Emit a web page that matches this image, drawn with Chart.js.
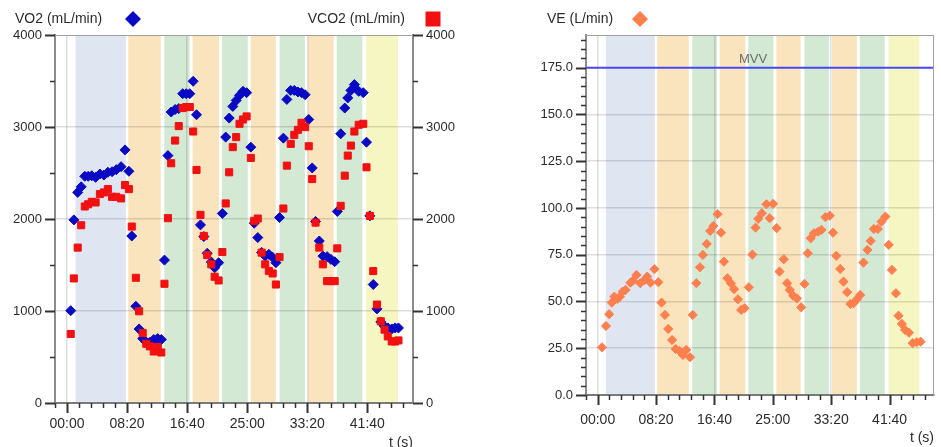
<!DOCTYPE html>
<html>
<head>
<meta charset="utf-8">
<script src="https://cdn.jsdelivr.net/npm/chart.js@4.4.0/dist/chart.umd.min.js"></script>
<style>
  html, body { margin: 0; padding: 0; background: #fff; }
  #wrap { position: relative; width: 941px; height: 447px; overflow: hidden; }
  #left { position: absolute; left: 0; top: 0; }
  #right { position: absolute; left: 470px; top: 0; }
</style>
</head>
<body>
<div id="wrap">
  <canvas id="left" width="470" height="447"></canvas>
  <canvas id="right" width="471" height="447"></canvas>
</div>
<script>
// ---- data (time in s) ----
const gasTimes = [31, 57, 89, 118, 148, 176, 206, 238, 274, 307, 340, 375, 410, 450, 483, 515,
  539, 573, 600, 630, 660, 690, 722, 755, 785,
  811, 840, 867, 900, 930, 963, 992, 1022, 1050, 1078,
  1111, 1139, 1167, 1201, 1229, 1262,
  1293, 1321, 1350, 1380, 1408, 1436, 1465, 1495,
  1530, 1558, 1588, 1620, 1650, 1680, 1712, 1739,
  1769, 1801, 1830, 1862, 1892, 1922, 1952, 1982,
  2012, 2041, 2069, 2100, 2130, 2165, 2197, 2228,
  2250, 2278, 2312, 2337, 2363, 2392, 2428, 2466,
  2493, 2521, 2549, 2580, 2612, 2643, 2670, 2703, 2731, 2759];
const vo2Values = [1004, 1990, 2289, 2350, 2464, 2464, 2470, 2453, 2489, 2478, 2508, 2514, 2536, 2569, 2751, 2519,
  1815, 1051, 805, 700, 660, 660, 690, 700, 690,
  1553, 2689, 3163, 3190, 3200, 3362, 3362, 3362, 3497, 3133,
  1936, 1809, 1627, 1532, 1470, 1525,
  2060, 2890, 3097, 3224, 3289, 3344, 3388, 3373,
  2781, 1954, 1798, 1637, 1597, 1616, 1583, 1525,
  2016, 2879, 3300, 3398, 3398, 3381, 3373, 3351,
  3082, 2555, 1973, 1761, 1597, 1591, 1561, 1536,
  2082, 2926, 3206, 3316, 3398, 3461, 3388, 3373,
  2835, 2034, 1288, 1023, 881, 833, 816, 805, 816, 816];
const vco2Values = [750, 1354, 1689, 1932, 2136, 2160, 2187, 2180, 2271, 2289, 2325, 2241, 2241, 2224, 2369, 2325,
  1918, 1361, 997, 761, 644, 615, 560, 608, 549,
  1296, 2009, 2606, 2853, 3010, 3206, 3217, 3217, 2951, 2533,
  2045, 1816, 1608, 1507, 1372, 1332,
  1641, 2169, 2508, 2781, 2890, 3035, 3082, 3115,
  2664, 1980, 2005, 1634, 1507, 1434, 1408, 1288,
  1586, 2114, 2580, 2817, 2915, 2969, 3046, 2999,
  2791, 2434, 1961, 1689, 1507, 1325, 1325, 1325,
  1681, 2143, 2471, 2689, 2798, 2951, 3024, 3035,
  2562, 2034, 1434, 1070, 888, 797, 724, 669, 669, 680];

const veTimes = [37, 71, 98, 121, 143, 168, 191, 214, 239, 281, 303, 332, 365, 402, 424, 452, 486,
  519, 547, 576, 604, 637, 668, 702, 730, 758, 791,
  814, 845, 876, 901, 934, 963, 991, 1027,
  1056, 1081, 1111, 1140, 1168, 1201, 1229, 1258,
  1294, 1325, 1352, 1375, 1406, 1445, 1473, 1502,
  1532, 1557, 1594, 1622, 1645, 1673, 1706, 1743,
  1771, 1799, 1824, 1852, 1889, 1917, 1950, 1987,
  2015, 2043, 2077, 2105, 2136, 2164, 2192, 2220,
  2248, 2276, 2310, 2338, 2365, 2399, 2430, 2464,
  2492, 2520, 2554, 2576, 2605, 2632, 2666, 2697, 2731, 2765];
const veValues = [25.5, 36.9, 43.2, 49.4, 52.6, 51.4, 52.6, 55.3, 56.2, 60.1, 61.2, 64.2, 59.8, 61.5, 63.3, 60.1, 67.3,
  60.3, 49.4, 42.8, 35.3, 29.4, 24.6, 23.5, 21.4, 24.1, 20.2,
  42.8, 59.8, 68.3, 74.9, 80.8, 87.7, 90.4, 96.7,
  86.8, 71.3, 62.4, 59.8, 56.6, 51.2, 45.5, 46.4,
  57.6, 75.1, 89.5, 94.2, 97.2, 102, 94.5, 102.2,
  89.2, 66, 72.6, 59.8, 56.2, 53.1, 51.7, 46.9,
  59.4, 75.8, 83.8, 86.5, 87.4, 88.3, 95.1, 95.9,
  86.8, 74.4, 67.4, 60.6, 55, 48.7, 49.1, 51.2,
  53.5, 70.8, 77.6, 82.4, 88.8, 88.8, 92.7, 95.4,
  80.3, 66.9, 54.4, 42.4, 38, 34.8, 33.3, 27.7, 28.2, 28.5];

const mvvValue = 175;
const mvvLabelTime = 1330;

// test phases
const phaseStarts = [70, 510, 810, 1045, 1290, 1530, 1770, 2007, 2245, 2490];
const phaseEnds = [490, 780, 1020, 1265, 1505, 1738, 1980, 2220, 2458, 2755];
const phaseKinds = ['rest', 'recovery', 'work', 'recovery', 'work', 'recovery', 'work', 'recovery', 'work', 'cooldown'];

const timeRange = [-100, 2880];
const gasRange = [0, 4000];
const veRange = [0, 192.5];

// ---- styles ----
const phaseColors = { rest: '#dfe5f1', recovery: '#fae4bd', work: '#d3e9d4', cooldown: '#f6f6c2' };
const FONT = 'Liberation Sans, Arial, sans-serif';
const TEXT = '#2b2b2b';
const GRID = 'rgba(0,0,0,0.13)';
const AXIS = '#8c8c8c';

Chart.defaults.font.family = FONT;
Chart.defaults.color = TEXT;

const pad2 = n => String(n).padStart(2, '0');
const mmss = v => pad2(Math.floor(v / 60)) + ':' + pad2(v % 60);

function drawTicks(ctx, scale, step, majorStep, side) {
  const first = Math.ceil(scale.min / step) * step;
  ctx.strokeStyle = '#333';
  for (let v = first; v <= scale.max + 1e-6; v += step) {
    const major = Math.abs(v / majorStep - Math.round(v / majorStep)) < 1e-6;
    const len = major ? 10 : 5;
    const p = Math.round(scale.getPixelForValue(v)) + 0.5;
    ctx.lineWidth = major ? 2 : 1.5;
    ctx.beginPath();
    if (side === 'bottom') { ctx.moveTo(p, scale.top); ctx.lineTo(p, scale.top + len); }
    else if (side === 'left') { ctx.moveTo(scale.right, p); ctx.lineTo(scale.right - len, p); }
    else { ctx.moveTo(scale.left, p); ctx.lineTo(scale.left + len, p); }
    ctx.stroke();
  }
}

function marker(ctx, kind, x, y, color) {
  ctx.fillStyle = color;
  ctx.beginPath();
  if (kind === 'diamond') {
    ctx.moveTo(x, y - 8); ctx.lineTo(x + 8, y); ctx.lineTo(x, y + 8); ctx.lineTo(x - 8, y);
  } else {
    ctx.rect(x - 7.5, y - 7.5, 15, 15);
  }
  ctx.fill();
}

const bandPlugin = {
  id: 'bands',
  beforeDraw(chart) {
    const { ctx, chartArea: a, scales: { x } } = chart;
    ctx.save();
    phaseStarts.forEach((s, i) => {
      const x0 = x.getPixelForValue(s);
      const x1 = x.getPixelForValue(phaseEnds[i]);
      ctx.fillStyle = phaseColors[phaseKinds[i]];
      ctx.fillRect(x0, a.top, x1 - x0, a.bottom - a.top);
    });
    ctx.restore();
  }
};

const frameOpts = {
  id: 'frame',
  afterDraw(chart, args, opts) {
    const { ctx, chartArea: a, scales } = chart;
    ctx.save();
    ctx.strokeStyle = '#a0a0a0';
    ctx.lineWidth = 1;
    ctx.beginPath();
    ctx.moveTo(a.left, a.top + 0.5); ctx.lineTo(a.right, a.top + 0.5);
    if (opts.rightEdge) { ctx.moveTo(a.right - 0.5, a.top); ctx.lineTo(a.right - 0.5, a.bottom); }
    ctx.stroke();
    drawTicks(ctx, scales.x, 100, 500, 'bottom');
    opts.yTicks.forEach(t => drawTicks(ctx, scales[t.id], t.step, t.major, t.side));
    ctx.font = '14px ' + FONT;
    ctx.fillStyle = TEXT;
    ctx.textBaseline = 'middle';
    opts.titles.forEach(t => {
      ctx.textAlign = t.align;
      ctx.fillStyle = TEXT;
      ctx.fillText(t.text, t.x, 19);
      marker(ctx, t.marker, t.mx, 19, t.color);
    });
    ctx.textAlign = 'right';
    ctx.fillStyle = TEXT;
    ctx.fillText('t (s)', a.right, opts.unitY);
    if (opts.mvv) {
      ctx.textAlign = 'center';
      ctx.font = '13px ' + FONT;
      ctx.fillStyle = '#6e6e6e';
      ctx.fillText('MVV', scales.x.getPixelForValue(mvvLabelTime), scales.y.getPixelForValue(mvvValue) - 8);
    }
    ctx.restore();
  }
};

function xAxis(labelPad, height) {
  return {
    type: 'linear', min: timeRange[0], max: timeRange[1],
    border: { display: true, color: '#7a7a7a', width: 2 },
    grid: {
      color: c => (c.tick && c.tick.value % 1000 === 0) ? GRID : 'transparent',
      lineWidth: 1.5, drawTicks: true, tickLength: 10, tickColor: 'transparent'
    },
    ticks: {
      stepSize: 100, autoSkip: false, maxRotation: 0, padding: labelPad,
      font: { size: 14 }, color: TEXT,
      callback: v => (v >= 0 && v % 500 === 0) ? mmss(v) : ''
    },
    afterFit: s => { s.height = height; }
  };
}

function gasAxis(position, width, grid) {
  return {
    type: 'linear', position, min: gasRange[0], max: gasRange[1],
    border: { display: true, color: AXIS, width: 2 },
    grid: {
      drawOnChartArea: grid,
      color: c => (c.tick && c.tick.value > 0 && c.tick.value < 4000 && c.tick.value % 1000 === 0) ? GRID : 'transparent',
      lineWidth: 1.5, drawTicks: true, tickLength: 10, tickColor: 'transparent'
    },
    ticks: {
      stepSize: 500, padding: 3, font: { size: 13 }, color: TEXT,
      callback: v => v % 1000 === 0 ? String(v) : ''
    },
    afterFit: s => { s.width = width; }
  };
}

new Chart(document.getElementById('left'), {
  type: 'scatter',
  data: {
    datasets: [
      {
        label: 'VCO2 (mL/min)', yAxisID: 'y1', order: 0,
        data: gasTimes.map((t, i) => ({ x: t, y: vco2Values[i] })),
        pointStyle: 'rect', pointRadius: 5, borderWidth: 1,
        backgroundColor: '#f21010', borderColor: '#f21010'
      },
      {
        label: 'VO2 (mL/min)', yAxisID: 'y', order: 1,
        data: gasTimes.map((t, i) => ({ x: t, y: vo2Values[i] })),
        pointStyle: 'rectRot', pointRadius: 5, borderWidth: 1,
        backgroundColor: '#0a0ac4', borderColor: '#0a0ac4'
      }
    ]
  },
  options: {
    responsive: false, animation: false, devicePixelRatio: 1,
    layout: { padding: { top: 35, left: 0, right: 0, bottom: 0 } },
    plugins: {
      legend: { display: false }, tooltip: { enabled: false },
      frame: {
        rightEdge: false, unitY: 443, mvv: false,
        yTicks: [{ id: 'y', step: 500, major: 1000, side: 'left' }, { id: 'y1', step: 500, major: 1000, side: 'right' }],
        titles: [
          { text: 'VO2 (mL/min)', x: 15, align: 'left', marker: 'diamond', mx: 133, color: '#0a0ac4' },
          { text: 'VCO2 (mL/min)', x: 405, align: 'right', marker: 'square', mx: 433, color: '#f21010' }
        ]
      }
    },
    scales: {
      x: xAxis(3, 44),
      y: gasAxis('left', 55, true),
      y1: gasAxis('right', 57, false)
    }
  },
  plugins: [bandPlugin, frameOpts]
});

new Chart(document.getElementById('right'), {
  type: 'scatter',
  data: {
    datasets: [
      {
        type: 'line', label: 'MVV', order: 1,
        data: [{ x: timeRange[0], y: mvvValue }, { x: timeRange[1], y: mvvValue }],
        borderColor: '#4848f0', borderWidth: 2, pointRadius: 0
      },
      {
        label: 'VE (L/min)', order: 0,
        data: veTimes.map((t, i) => ({ x: t, y: veValues[i] })),
        pointStyle: 'rectRot', pointRadius: 4.6, borderWidth: 1,
        backgroundColor: '#ff7f4f', borderColor: '#ff7f4f'
      }
    ]
  },
  options: {
    responsive: false, animation: false, devicePixelRatio: 1,
    layout: { padding: { top: 35, left: 0, right: 2, bottom: 0 } },
    plugins: {
      legend: { display: false }, tooltip: { enabled: false },
      frame: {
        rightEdge: true, unitY: 438, mvv: true,
        yTicks: [{ id: 'y', step: 5, major: 25, side: 'left' }],
        titles: [
          { text: 'VE (L/min)', x: 77, align: 'left', marker: 'diamond', mx: 170, color: '#ff7f4f' }
        ]
      }
    },
    scales: {
      x: xAxis(7, 52),
      y: {
        type: 'linear', min: veRange[0], max: veRange[1],
        border: { display: true, color: AXIS, width: 2 },
        grid: {
          color: c => (c.tick && c.tick.value > 0 && c.tick.value < 175 && c.tick.value % 25 === 0) ? GRID : 'transparent',
          lineWidth: 1.5, drawTicks: true, tickLength: 10, tickColor: 'transparent'
        },
        ticks: {
          stepSize: 5, autoSkip: false, padding: 3, font: { size: 13 }, color: TEXT,
          callback: v => v % 25 === 0 ? v.toFixed(1) : ''
        },
        afterFit: s => { s.width = 116; }
      }
    }
  },
  plugins: [bandPlugin, frameOpts]
});
</script>
</body>
</html>
